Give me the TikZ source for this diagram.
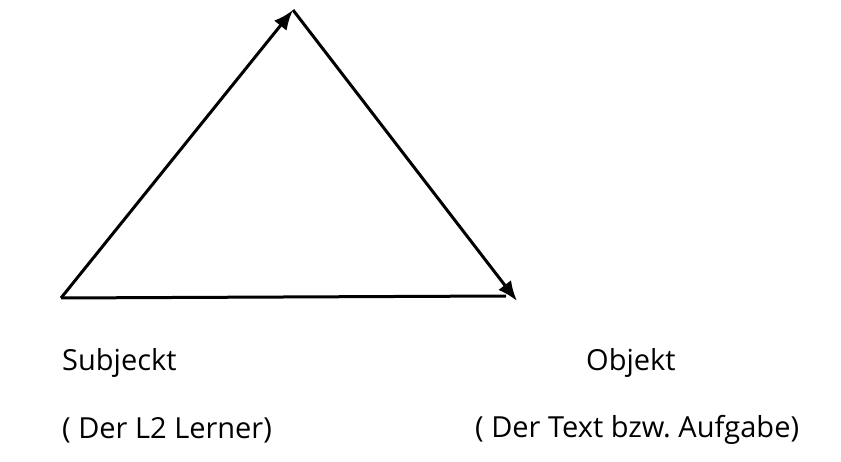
\documentclass[tikz,border=0pt]{standalone}
\usepackage{fontspec}
\setmainfont{Open Sans}
\usetikzlibrary{arrows.meta}
\begin{document}
\begin{tikzpicture}[x=1pt,y=-1pt,
  edge/.style={line width=3pt},
  tip/.style={-{Latex[length=20pt,width=16pt]}},
  lbl/.style={anchor=west,inner sep=0pt,font=\fontsize{29}{35}\selectfont}]
\useasboundingbox (0,0) rectangle (841,462);
\coordinate (L) at (61,298);
\coordinate (T) at (293,10);
\coordinate (R) at (517,301);
\coordinate (Rb) at (506,296);
\draw[edge,tip] (L) -- (T);
\draw[edge,tip] (T) -- (R);
\draw[edge] (L) -- (Rb);
\node[lbl] (s) at (62,363) {Subjeckt};
\node[lbl] (o) at (586,363) {Objekt};
\node[lbl] (s2) at (62,430) {( Der L2 Lerner)};
\node[lbl] (o2) at (475,430) {( Der Text bzw.\ Aufgabe)};
\end{tikzpicture}
\end{document}
